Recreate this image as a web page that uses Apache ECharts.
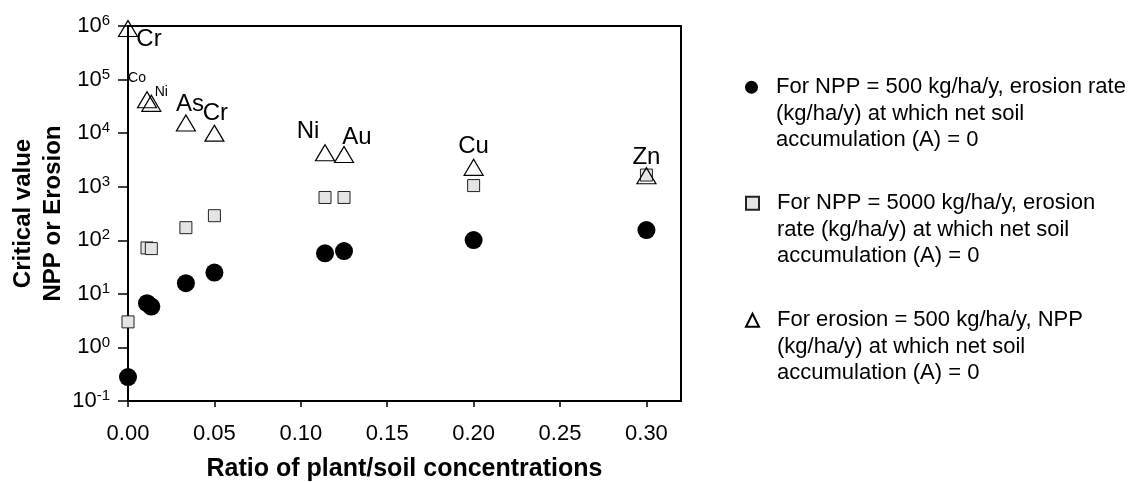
<!DOCTYPE html>
<html>
<head>
<meta charset="utf-8">
<script src="https://cdn.jsdelivr.net/npm/echarts@6/dist/echarts.min.js"></script>
<style>
  html, body { margin: 0; padding: 0; background: #fff; }
  #chart { width: 1136px; height: 482px; }
</style>
</head>
<body>
<div id="chart"></div>
<script>
// data
var elements = ['Cr', 'Co', 'Ni', 'As', 'Cr', 'Ni', 'Au', 'Cu', 'Zn'];
var ratio = [0.000, 0.011, 0.0135, 0.0335, 0.050, 0.114, 0.125, 0.200, 0.300];
var erosionAtNpp500 = [0.28, 6.7, 5.8, 15.8, 25, 57, 63, 101, 155];   // circles
var erosionAtNpp5000 = [3.0, 72, 70, 172, 288, 630, 630, 1050, 1650]; // squares
var nppAtErosion500 = [9.0e5, 4.2e4, 3.6e4, 1.55e4, 1.0e4, 4.3e3, 4.0e3, 2.3e3, 1.6e3]; // triangles
var xTicks = [0, 0.05, 0.10, 0.15, 0.20, 0.25, 0.30];

var legendText = [
  'For NPP = 500 kg/ha/y, erosion rate\n(kg/ha/y) at which net soil\naccumulation (A) = 0',
  'For NPP = 5000 kg/ha/y, erosion\nrate (kg/ha/y) at which net soil\naccumulation (A) = 0',
  'For erosion = 500 kg/ha/y, NPP\n(kg/ha/y) at which net soil\naccumulation (A) = 0'
];
var seriesNames = ['npp500', 'npp5000', 'ero500'];

var FONT = '"Liberation Sans", Arial, Helvetica, sans-serif';

// label placement for the element names (offset from triangle centre, font size)
var labelLayout = [
  {dx: 21, dy: 11, fs: 24},
  {dx: -10, dy: -22, fs: 14},
  {dx: 10, dy: -11, fs: 14},
  {dx: 4, dy: -19, fs: 24},
  {dx: 1, dy: -20, fs: 24},
  {dx: -17, dy: -21, fs: 24},
  {dx: 13, dy: -17, fs: 24},
  {dx: 0, dy: -21, fs: 24},
  {dx: 0, dy: -18, fs: 24}
];

function pairs(ys) {
  return ratio.map(function(x, i) { return [x, ys[i]]; });
}

var triData = ratio.map(function(x, i) {
  var l = labelLayout[i];
  return {
    value: [x, nppAtErosion500[i]],
    label: {
      show: true,
      position: 'inside',
      offset: [l.dx, l.dy],
      formatter: elements[i],
      fontSize: l.fs,
      fontFamily: FONT,
      color: '#000'
    }
  };
});

function makeLegend(idx, top) {
  return {
    data: [seriesNames[idx]],
    left: 745,
    top: top,
    padding: 0,
    orient: 'vertical',
    selectedMode: false,
    itemWidth: 13,
    itemHeight: 13,
    formatter: function() { return '\n\n' + legendText[idx]; },
    textStyle: {
      fontSize: 22,
      lineHeight: 26.5,
      fontFamily: FONT,
      color: '#000',
      padding: [0, 0, 0, 13]
    }
  };
}

var chart = echarts.init(document.getElementById('chart'));
var option = {
  animation: false,
  backgroundColor: '#fff',
  grid: {
    left: 128, top: 26, right: 455, bottom: 81,
    outerBoundsMode: 'none',
    containLabel: false,
    show: true, borderColor: '#000', borderWidth: 2,
    backgroundColor: 'transparent'
  },
  legend: [makeLegend(0, 21), makeLegend(1, 137), makeLegend(2, 254)],
  xAxis: {
    type: 'value',
    min: 0, max: 0.32, interval: 0.05,
    name: 'Ratio of plant/soil concentrations',
    nameLocation: 'middle',
    nameGap: 56,
    nameTextStyle: { fontSize: 25, fontWeight: 'bold', fontFamily: FONT, color: '#000', verticalAlign: 'top' },
    axisLine: { lineStyle: { color: '#000', width: 2 } },
    axisTick: { length: 6, lineStyle: { color: '#000', width: 1.5 } },
    axisLabel: {
      fontSize: 22, fontFamily: FONT, color: '#000', margin: 22,
      showMaxLabel: false,
      formatter: function(v) {
        var hit = xTicks.some(function(t) { return Math.abs(t - v) < 1e-9; });
        return hit ? v.toFixed(2) : '';
      }
    },
    splitLine: { show: false }
  },
  yAxis: {
    type: 'log',
    logBase: 10,
    min: 0.1, max: 1e6,
    splitNumber: 7,
    name: 'Critical value\nNPP or Erosion',
    nameLocation: 'middle',
    nameGap: 59,
    nameTextStyle: { fontSize: 24, fontWeight: 'bold', fontFamily: FONT, color: '#000', lineHeight: 30 },
    axisLine: { show: true, lineStyle: { color: '#000', width: 2 } },
    axisTick: { length: 10, lineStyle: { color: '#000', width: 1.5 } },
    axisLabel: {
      margin: 18,
      formatter: function(v) {
        var e = Math.round(Math.log10(v));
        return '{b|10}{s|' + e + '}';
      },
      rich: {
        b: { fontSize: 22, lineHeight: 25, fontFamily: FONT, color: '#000' },
        s: { fontSize: 15, lineHeight: 15, fontFamily: FONT, color: '#000', verticalAlign: 'top' }
      }
    },
    splitLine: { show: false }
  },
  series: [
    {
      name: seriesNames[0],
      type: 'scatter',
      symbol: 'circle',
      symbolSize: 18,
      clip: false,
      itemStyle: { color: '#000', opacity: 1 },
      data: pairs(erosionAtNpp500)
    },
    {
      name: seriesNames[1],
      type: 'scatter',
      symbol: 'rect',
      symbolSize: 12,
      clip: false,
      itemStyle: { color: '#e4e4e4', borderColor: '#222', borderWidth: 1, opacity: 1 },
      data: pairs(erosionAtNpp5000)
    },
    {
      name: seriesNames[2],
      type: 'scatter',
      symbol: 'triangle',
      symbolSize: [19, 16],
      clip: false,
      itemStyle: { color: 'rgba(255,255,255,0)', borderColor: '#000', borderWidth: 1.2, opacity: 1 },
      data: triData
    }
  ]
};
chart.setOption(option);
</script>
</body>
</html>
